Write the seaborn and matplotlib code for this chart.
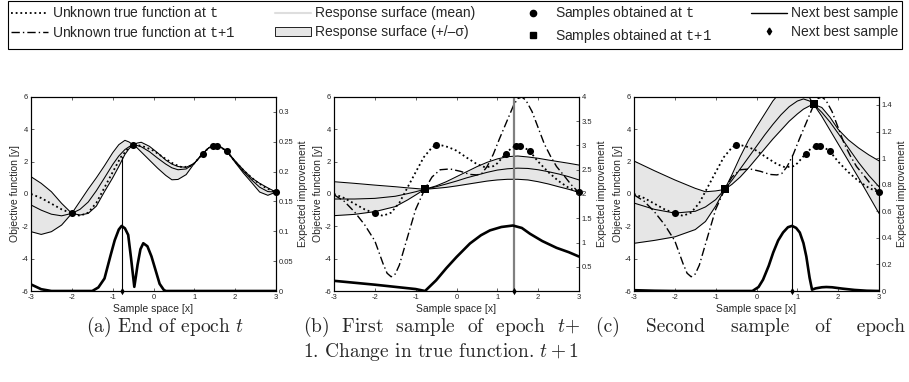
import matplotlib
matplotlib.use("Agg")
import matplotlib.pyplot as plt
import seaborn as sns
from matplotlib.lines import Line2D
from matplotlib.patches import Patch

# ---------------- data ----------------
# unknown true function at t (dotted)
x_true_t = [-3, -2.75, -2.5, -2.25, -2, -1.8, -1.6, -1.4, -1.2, -1.0, -0.8, -0.6, -0.5, -0.35, -0.2,
            0, 0.25, 0.5, 0.7, 0.9, 1.0, 1.2, 1.35, 1.5, 1.65, 1.8, 2.0, 2.25, 2.5, 2.75, 3.0]
y_true_t = [0.0, -0.25, -0.6, -0.95, -1.2, -1.35, -1.15, -0.55, 0.4, 1.35, 2.28, 2.88, 3.04, 3.0, 2.9,
            2.68, 2.25, 1.85, 1.65, 1.72, 1.9, 2.48, 2.85, 3.0, 2.9, 2.63, 2.0, 1.35, 0.8, 0.38, 0.1]
# unknown true function at t+1 (dash-dot)
x_true_t1 = [-3, -2.75, -2.5, -2.25, -2.0, -1.8, -1.7, -1.6, -1.5, -1.4, -1.25, -1.0, -0.78, -0.6, -0.4,
             -0.16, 0.1, 0.33, 0.5, 0.62, 0.75, 0.9, 1.05, 1.2, 1.4, 1.5, 1.6, 1.7, 1.85, 2.0,
             2.15, 2.3, 2.45, 2.62, 2.8, 3.0]
y_true_t1 = [-0.05, -0.45, -1.1, -1.9, -2.9, -4.3, -4.9, -5.12, -4.95, -4.4, -3.1, -0.95, 0.28, 1.05, 1.5,
             1.55, 1.4, 1.21, 1.18, 1.27, 1.7, 2.45, 3.4, 4.3, 5.5, 5.9, 6.0, 5.8, 5.1, 4.1,
             3.1, 2.35, 1.7, 1.18, 0.6, 0.08]
# samples
x_samp_t = [-2.0, -0.5, 1.2, 1.45, 1.55, 1.8, 3.0]
y_samp_t = [-1.2, 3.04, 2.48, 2.97, 2.97, 2.63, 0.1]
x_samp_t1_b = [-0.78]
y_samp_t1_b = [0.28]
x_samp_t1_c = [-0.78, 1.4]
y_samp_t1_c = [0.28, 5.55]

# panel (a) response surface
x_gp_a = [-3, -2.75, -2.5, -2.25, -2, -1.8, -1.6, -1.4, -1.2, -1.0, -0.85, -0.7, -0.6, -0.5, -0.4,
          -0.3, -0.1, 0.1, 0.3, 0.45, 0.6, 0.8, 1.0, 1.2, 1.35, 1.5, 1.65, 1.8, 2.0, 2.2, 2.4, 2.6, 2.8, 3.0]
upper_a = [1.07, 0.66, 0.14, -0.58, -1.2, -0.45, 0.3, 1.0, 1.75, 2.55, 3.05, 3.32, 3.22, 3.04, 3.15,
           3.2, 2.95, 2.55, 2.1, 1.85, 1.7, 1.65, 1.9, 2.48, 2.85, 3.0, 2.9, 2.63, 2.05, 1.5, 1.0, 0.66, 0.38, 0.12]
mean_a = [-0.68, -1.0, -1.25, -1.35, -1.2, -0.95, -0.5, 0.2, 1.0, 1.82, 2.35, 2.75, 2.92, 3.04, 3.0,
          2.92, 2.62, 2.22, 1.85, 1.62, 1.5, 1.55, 1.9, 2.48, 2.85, 3.0, 2.9, 2.63, 2.0, 1.4, 0.88, 0.42, 0.15, 0.12]
lower_a = [-2.33, -2.5, -2.33, -1.92, -1.2, -1.3, -1.2, -0.75, 0.15, 1.0, 1.7, 2.45, 2.8, 3.04, 2.85,
           2.6, 2.1, 1.6, 1.15, 0.88, 0.9, 1.2, 1.9, 2.48, 2.85, 3.0, 2.9, 2.63, 1.95, 1.3, 0.72, 0.12, -0.08, 0.12]
x_ei_a = [-3, -2.75, -2.5, -1.5, -1.35, -1.2, -1.05, -0.95, -0.85, -0.78, -0.7, -0.62, -0.55, -0.5,
          -0.47, -0.43, -0.39, -0.32, -0.25, -0.15, -0.05, 0.05, 0.15, 0.25, 0.3, 3.0]
ei_a = [0.011, 0.003, 0.0, 0.0, 0.006, 0.021, 0.06, 0.085, 0.103, 0.109, 0.105, 0.094, 0.055, 0.025,
        0.007, 0.025, 0.044, 0.07, 0.08, 0.075, 0.058, 0.035, 0.012, 0.002, 0.0, 0.0]

# panel (b) response surface
x_gp_b = [-3, -2.5, -2, -1.5, -1.2, -1.0, -0.78, -0.5, -0.25, 0, 0.25, 0.5, 0.75, 1.0, 1.25, 1.5,
          1.75, 2.0, 2.25, 2.5, 2.75, 3.0]
upper_b = [0.76, 0.66, 0.55, 0.45, 0.38, 0.34, 0.29, 0.5, 0.76, 1.07, 1.38, 1.69, 1.96, 2.17, 2.31, 2.35,
           2.29, 2.21, 2.1, 2.0, 1.9, 1.79]
mean_b = [-0.31, -0.31, -0.27, -0.14, 0.02, 0.14, 0.29, 0.45, 0.62, 0.8, 1.0, 1.17, 1.34, 1.48, 1.56, 1.6,
          1.58, 1.5, 1.38, 1.24, 1.07, 0.87]
lower_b = [-1.34, -1.26, -1.09, -0.78, -0.37, -0.06, 0.29, 0.35, 0.41, 0.5, 0.6, 0.7, 0.8, 0.87, 0.91, 0.91,
           0.87, 0.76, 0.62, 0.45, 0.29, 0.1]
x_ei_b = [-3, -2, -1, -0.77, -0.5, -0.25, 0, 0.33, 0.6, 0.82, 1.1, 1.38, 1.6, 1.8, 2.1, 2.45, 2.75, 3.0]
ei_b = [0.21, 0.13, 0.04, 0.0, 0.22, 0.47, 0.7, 0.98, 1.15, 1.25, 1.32, 1.35, 1.3, 1.18, 1.03, 0.89, 0.8, 0.71]

# panel (c) response surface
x_gp_c = [-3, -2.5, -2, -1.5, -1.25, -1.0, -0.78, -0.6, -0.4, -0.2, 0, 0.2, 0.4, 0.6, 0.8, 1.0, 1.15,
          1.3, 1.4, 1.6, 1.8, 2.0, 2.25, 2.5, 2.75, 3.0]
upper_c = [2.04, 1.44, 0.87, 0.35, 0.14, 0.19, 0.28, 1.2, 2.3, 3.3, 4.15, 4.95, 5.75, 6.35, 6.65, 6.65, 6.45,
           5.95, 5.55, 5.35, 4.75, 4.0, 3.35, 2.85, 2.42, 2.05]
mean_c = [-0.56, -0.95, -1.18, -1.07, -0.8, -0.35, 0.28, 0.85, 1.55, 2.25, 2.95, 3.65, 4.3, 4.9, 5.4, 5.75, 5.88,
          5.75, 5.55, 5.05, 4.45, 3.75, 2.85, 1.95, 1.15, 0.45]
lower_c = [-3.05, -2.87, -2.65, -2.2, -1.7, -0.75, 0.28, 0.6, 1.05, 1.6, 2.2, 2.8, 3.4, 3.95, 4.5, 4.95, 5.25,
           5.45, 5.55, 4.8, 3.95, 3.1, 2.05, 1.0, -0.1, -1.2]
x_ei_c = [-3, -2.5, -2, -0.1, 0.05, 0.16, 0.3, 0.41, 0.53, 0.65, 0.77, 0.87, 0.97, 1.06, 1.15, 1.22, 1.3,
          1.36, 1.45, 1.6, 1.71, 1.85, 2.1, 2.4, 2.7, 3.0]
ei_c = [0.006, 0.002, 0.0, 0.0, 0.03, 0.085, 0.19, 0.29, 0.38, 0.44, 0.48, 0.49, 0.475, 0.44, 0.36, 0.26, 0.1,
        0.01, 0.02, 0.028, 0.03, 0.028, 0.018, 0.008, 0.002, 0.0]

# next best sample per panel (x position, top of vertical marker line)
x_next = [-0.78, 1.4, 0.88]
top_next = [2.3, 6.0, 2.4]

# axis ticks
x_ticks = [-3, -2, -1, 0, 1, 2, 3]
y_ticks = [-6, -4, -2, 0, 2, 4, 6]
ei_ticks_a = [0, 0.05, 0.1, 0.15, 0.2, 0.25, 0.3]
ei_ticks_b = [0.5, 1, 1.5, 2, 2.5, 3, 3.5, 4]
ei_ticks_c = [0, 0.2, 0.4, 0.6, 0.8, 1.0, 1.2, 1.4]
ei_lims = [(0, 0.325), (0, 4.0), (0, 1.46)]

# ---------------- style ----------------
sns.set_style("ticks")
plt.rcParams["font.family"] = ["Liberation Sans", "DejaVu Sans"]
plt.rcParams["axes.unicode_minus"] = False
plt.rcParams["mathtext.fontset"] = "custom"
plt.rcParams["mathtext.tt"] = "Liberation Mono"
plt.rcParams["mathtext.rm"] = "Liberation Sans"

FILL = "#e6e6e6"
DOT = (0, (1, 1.6))
DASHDOT = (0, (6, 2.2, 1, 2.2))

fig = plt.figure(figsize=(9.09, 3.82), dpi=100)
W, H = 909.0, 382.0
lefts = [31, 334, 634]
ax_w, ax_top, ax_bot = 245, 97, 291


def fmt(v):
    return "%g" % v


panels = [
    dict(xg=x_gp_a, up=upper_a, mn=mean_a, lo=lower_a, xe=x_ei_a, ei=ei_a, t1=False,
         sq=None, ticks=ei_ticks_a, vcol="k", vlw=0.8),
    dict(xg=x_gp_b, up=upper_b, mn=mean_b, lo=lower_b, xe=x_ei_b, ei=ei_b, t1=True,
         sq=(x_samp_t1_b, y_samp_t1_b), ticks=ei_ticks_b, vcol="#808080", vlw=1.6),
    dict(xg=x_gp_c, up=upper_c, mn=mean_c, lo=lower_c, xe=x_ei_c, ei=ei_c, t1=True,
         sq=(x_samp_t1_c, y_samp_t1_c), ticks=ei_ticks_c, vcol="k", vlw=0.8),
]

for i, p in enumerate(panels):
    ax = fig.add_axes([lefts[i] / W, (H - ax_bot) / H, ax_w / W, (ax_bot - ax_top) / H])
    ax.fill_between(p["xg"], p["lo"], p["up"], color=FILL, lw=0, zorder=1)
    for arr in (p["up"], p["mn"], p["lo"]):
        sns.lineplot(x=p["xg"], y=arr, ax=ax, color="k", lw=0.75, sort=False, estimator=None, zorder=2)
    sns.lineplot(x=x_true_t, y=y_true_t, ax=ax, color="k", lw=1.3, linestyle=DOT,
                 sort=False, estimator=None, zorder=3)
    if p["t1"]:
        sns.lineplot(x=x_true_t1, y=y_true_t1, ax=ax, color="k", lw=1.0, linestyle=DASHDOT,
                     sort=False, estimator=None, zorder=3)
    sns.scatterplot(x=x_samp_t, y=y_samp_t, ax=ax, color="k", marker="o", s=26, linewidth=0,
                    zorder=5, clip_on=False)
    if p["sq"] is not None:
        sns.scatterplot(x=p["sq"][0], y=p["sq"][1], ax=ax, color="k", marker="s", s=30, linewidth=0,
                        zorder=5, clip_on=False)
    # next best sample
    sns.lineplot(x=[x_next[i], x_next[i]], y=[-6, top_next[i]], ax=ax, color=p["vcol"], lw=p["vlw"],
                 sort=False, estimator=None, zorder=4)
    sns.scatterplot(x=[x_next[i]], y=[-6], ax=ax, color="k", marker="d", s=14, linewidth=0,
                    zorder=6, clip_on=False)

    ax.set_xlim(-3, 3)
    ax.set_ylim(-6, 6)
    ax.set_xticks(x_ticks)
    ax.set_yticks(y_ticks)
    ax.set_xticklabels([fmt(v) for v in x_ticks])
    ax.set_yticklabels([fmt(v) for v in y_ticks])
    ax.tick_params(direction="in", length=2.5, width=0.5, labelsize=5.5, pad=2,
                   top=True, right=False)
    ax.set_xlabel("Sample space [x]", fontsize=7.5, labelpad=2)
    ax.set_ylabel("Objective function [y]", fontsize=7.5, labelpad=1)
    for sp in ax.spines.values():
        sp.set_linewidth(0.8)
        sp.set_color("k")

    ax2 = ax.twinx()
    sns.lineplot(x=p["xe"], y=p["ei"], ax=ax2, color="k", lw=1.9, sort=False, estimator=None,
                 zorder=4)
    ax2.set_ylim(*ei_lims[i])
    ax2.set_yticks(p["ticks"])
    ax2.set_yticklabels([fmt(v) for v in p["ticks"]])
    ax2.tick_params(direction="in", length=2.5, width=0.5, labelsize=5.5, pad=2)
    ax2.set_ylabel("Expected improvement", fontsize=7.5, labelpad=3)
    for sp in ax2.spines.values():
        sp.set_linewidth(0.8)
        sp.set_color("k")

# ---------------- legend ----------------
handles = [
    Line2D([], [], color="k", lw=1.3, linestyle=DOT),
    Line2D([], [], color="k", lw=1.0, linestyle=DASHDOT),
    Line2D([], [], color="#dedede", lw=1.5),
    Patch(facecolor=FILL, edgecolor="k", lw=0.6),
    Line2D([], [], color="k", marker="o", ms=4.5, lw=0),
    Line2D([], [], color="k", marker="s", ms=4.5, lw=0),
    Line2D([], [], color="k", lw=1.0),
    Line2D([], [], color="k", marker="d", ms=3.5, lw=0),
]
labels = [
    r"Unknown true function at $\mathtt{t}$",
    r"Unknown true function at $\mathtt{t{+}1}$",
    "Response surface (mean)",
    "Response surface (+/\u2013\u03c3)",
    r"Samples obtained at $\mathtt{t}$",
    r"Samples obtained at $\mathtt{t{+}1}$",
    "Next best sample",
    "Next best sample",
]
leg = fig.legend(handles, labels, loc="upper left", ncol=4, mode="expand",
                 bbox_to_anchor=(8 / W, 0.5, 894 / W, 1 - 1 / H - 0.5),
                 frameon=True, fancybox=False, edgecolor="k", framealpha=1,
                 borderaxespad=0, fontsize=10, handlelength=2.6, handletextpad=0.3,
                 labelspacing=0.35, borderpad=0.25, columnspacing=1.0)
leg.get_frame().set_linewidth(0.8)

# ---------------- captions ----------------
cap = dict(fontfamily="cmr10", math_fontfamily="cm", fontsize=14, va="center")
fig.text(165 / W, 1 - 327 / H, r"(a) End of epoch $t$", ha="center", **cap)
fig.text(303 / W, 1 - 327 / H, r"(b)  First  sample  of  epoch  $t$+", ha="left", **cap)
fig.text(905 / W, 1 - 327 / H, r"(c)    Second    sample    of    epoch", ha="right", **cap)
fig.text(303 / W, 1 - 352 / H, r"1. Change in true function. $t+1$", ha="left", **cap)

fig.savefig("out.png", dpi=100)
